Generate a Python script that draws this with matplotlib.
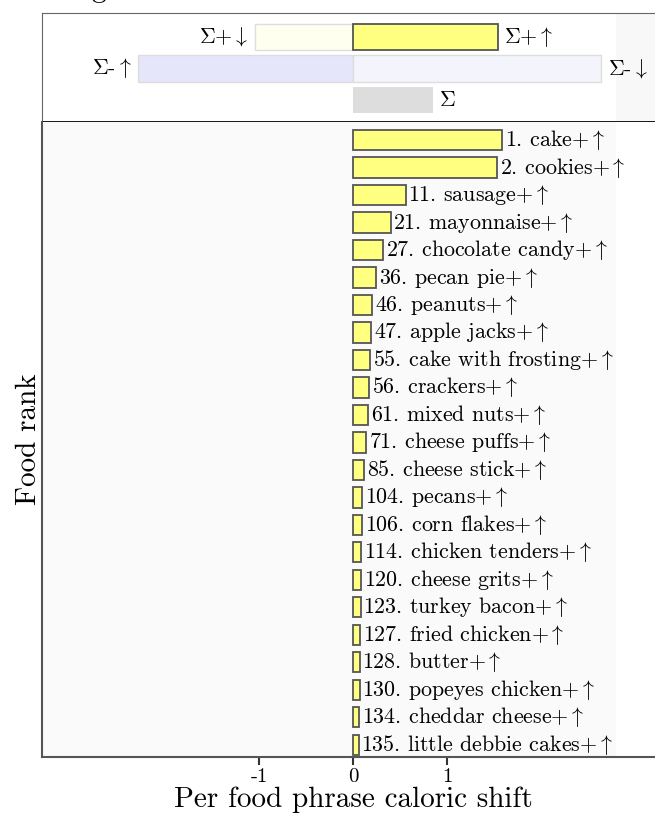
import numpy as np
import matplotlib
matplotlib.use('Agg')
import matplotlib.pyplot as plt
import matplotlib.transforms as mtransforms

plt.rcParams['font.family'] = ['cmr10', 'DejaVu Serif']
plt.rcParams['mathtext.fontset'] = 'cm'
plt.rcParams['axes.formatter.use_mathtext'] = True

# summary bars (top panel)
sum_pos_up = 1.54
sum_pos_down = -1.04
sum_neg_up = -2.29
sum_neg_down = 2.64
sum_total = 0.85

# per-food bars
ranks = [1, 2, 11, 21, 27, 36, 46, 47, 55, 56, 61, 71, 85, 104, 106,
         114, 120, 123, 127, 128, 130, 134, 135]
foods = ['cake', 'cookies', 'sausage', 'mayonnaise', 'chocolate candy',
         'pecan pie', 'peanuts', 'apple jacks', 'cake with frosting',
         'crackers', 'mixed nuts', 'cheese puffs', 'cheese stick', 'pecans',
         'corn flakes', 'chicken tenders', 'cheese grits', 'turkey bacon',
         'fried chicken', 'butter', 'popeyes chicken', 'cheddar cheese',
         'little debbie cakes']
shifts = [1.585, 1.53, 0.56, 0.40, 0.32, 0.245, 0.20, 0.19, 0.18, 0.17,
          0.16, 0.14, 0.12, 0.095, 0.095, 0.085, 0.085, 0.08, 0.075, 0.07,
          0.07, 0.065, 0.06]

xlim = (-3.309, 3.213)
yellow = '#ffff80'
edge = '#555555'

fig = plt.figure(figsize=(6.55, 8.14), dpi=100)
ax_top = fig.add_axes([0.0641, 0.8501, 0.9359, 0.1339])
ax = fig.add_axes([0.0641, 0.0700, 0.9359, 0.7801])

# ---- top summary panel
h = 0.83
ax_top.barh(0, sum_pos_down, height=h, color='#fffff0', edgecolor='#dddddd', lw=1)
ax_top.barh(0, sum_pos_up, height=h, color=yellow, edgecolor=edge, lw=1.3)
ax_top.barh(1, sum_neg_up, height=h, color='#e6e6fa', edgecolor='#dddddd', lw=1)
ax_top.barh(1, sum_neg_down, height=h, color='#f4f4fd', edgecolor='#dddddd', lw=1)
ax_top.barh(2, sum_total, height=h, color='#dddddd', lw=0)
fs = 15.8
pad = 0.07
up = r'$\uparrow$'
down = r'$\downarrow$'
ax_top.text(sum_pos_up + pad, 0, r'$\Sigma$+' + up, va='center', ha='left', fontsize=fs)
ax_top.text(sum_pos_down - pad, 0, r'$\Sigma$+' + down, va='center', ha='right', fontsize=fs)
ax_top.text(sum_neg_up - pad, 1, r'$\Sigma$-' + up, va='center', ha='right', fontsize=fs)
ax_top.text(sum_neg_down + pad, 1, r'$\Sigma$-' + down, va='center', ha='left', fontsize=fs)
ax_top.text(sum_total + pad, 2, r'$\Sigma$', va='center', ha='left', fontsize=fs)
ax_top.axvspan(2.80, xlim[1], color='#f8f8f8', zorder=0, lw=0)
ax_top.set_xlim(xlim)
ax_top.set_ylim(2.70, -0.76)
ax_top.set_xticks([])
ax_top.set_yticks([])
for s in ['top', 'left']:
    ax_top.spines[s].set_color('#666666')
ax_top.spines['right'].set_visible(False)
ax_top.spines['bottom'].set_color('black')
ax_top.spines['bottom'].set_linewidth(2)

# ---- main panel
ax.set_facecolor('#fafafa')
y = np.arange(len(shifts))
ax.barh(y, shifts, height=0.73, color=yellow, edgecolor=edge, lw=1.3)
for yi, r, f, v in zip(y, ranks, foods, shifts):
    ax.text(v + 0.03, yi, f'{r}. {f}+' + up, va='center', ha='left',
            fontsize=fs)
ax.axvspan(2.80, xlim[1], color='white', zorder=0, lw=0)
ax.set_xlim(xlim)
ax.set_ylim(22.44, -0.655)
ax.set_yticks([])
ax.set_xticks([-1, 0, 1])
ax.set_xticklabels(['-1', '0', '1'], fontsize=15)
ax.tick_params(axis='x', direction='out', length=6, width=1.5, color='#333333', pad=2)
ax.spines['top'].set_visible(False)
ax.spines['right'].set_visible(False)
for s in ['left', 'bottom']:
    ax.spines[s].set_color('#555555')
    ax.spines[s].set_linewidth(1.5)
ax.set_ylabel('Food rank', fontsize=21, labelpad=0)
trans = mtransforms.blended_transform_factory(ax.transData, fig.transFigure)
ax.text(0, 1 - 800 / 814, 'Per food phrase caloric shift', transform=trans,
        ha='center', va='center', fontsize=21)

# cropped panel label at the very top
fig.text(0.15, 1.012, 'g', ha='center', va='center', fontsize=21)

fig.savefig('out.png', dpi=100)
